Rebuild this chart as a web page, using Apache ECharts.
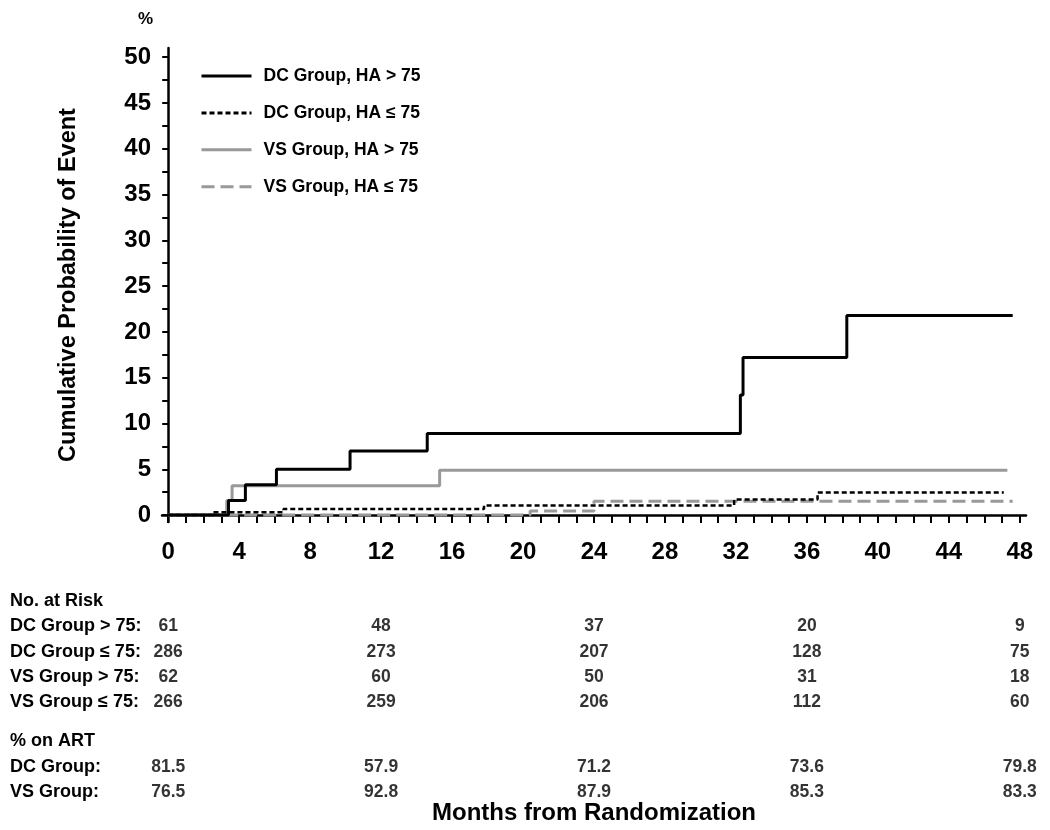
<!DOCTYPE html>
<html><head><meta charset="utf-8">
<script src="https://cdn.jsdelivr.net/npm/echarts@6/dist/echarts.min.js"></script>
<style>html,body{margin:0;padding:0;background:#fff}#c{width:1050px;height:830px}</style>
</head><body><div id="c"></div>
<script>
// ---- data ----
const seriesNames = ['DC Group, HA > 75', 'DC Group, HA \u2264 75', 'VS Group, HA > 75', 'VS Group, HA \u2264 75'];
const dcHighMonths = [0, 3.4, 4.35, 6.1, 10.25, 14.6, 32.25, 32.4, 38.25, 47.6];
const dcHighPct    = [0, 1.6, 3.3, 5.0, 7.0, 8.9, 13.1, 17.2, 21.8, 21.8];
const dcLowMonths  = [0, 2.55, 6.5, 17.8, 31.9, 36.6, 47.1];
const dcLowPct     = [0, 0.3, 0.65, 1.05, 1.7, 2.45, 2.45];
const vsHighMonths = [0, 3.3, 3.6, 15.3, 47.3];
const vsHighPct    = [0, 1.6, 3.2, 4.9, 4.9];
const vsLowMonths  = [0, 20.4, 24.0, 47.6];
const vsLowPct     = [0, 0.45, 1.5, 1.5];

const xLabelTicks = [0, 4, 8, 12, 16, 20, 24, 28, 32, 36, 40, 44, 48];
const xMinorTicks = [0,1,2,3,4,5,6,7,8,9,10,11,12,13,14,15,16,17,18,19,20,21,22,23,24,25,26,27,28,29,30,31,32,33,34,35,36,37,38,39,40,41,42,43,44,45,46,47,48];
const yLabelTicks = [0, 5, 10, 15, 20, 25, 30, 35, 40, 45, 50];
const yMinorTicks = [0, 2.5, 5, 7.5, 10, 12.5, 15, 17.5, 20, 22.5, 25, 27.5, 30, 32.5, 35, 37.5, 40, 42.5, 45, 47.5, 50];

const riskMonths  = [0, 12, 24, 36, 48];
const riskDCHigh  = [61, 48, 37, 20, 9];
const riskDCLow   = [286, 273, 207, 128, 75];
const riskVSHigh  = [62, 60, 50, 31, 18];
const riskVSLow   = [266, 259, 206, 112, 60];
const artDC       = ['81.5', '57.9', '71.2', '73.6', '79.8'];
const artVS       = ['76.5', '92.8', '87.9', '85.3', '83.3'];
const tableRowLabels = ['No. at Risk', 'DC Group > 75:', 'DC Group \u2264 75:', 'VS Group > 75:', 'VS Group \u2264 75:', '% on ART', 'DC Group:', 'VS Group:'];
const tableRowPos    = [0, 1, 2, 3, 4, 5.55, 6.55, 7.55];

// ---- build ----
const FONT = '"Liberation Sans", Arial, Helvetica, sans-serif';
const zip = (xs, ys) => xs.map((x, i) => [x, ys[i]]);
const rowMap = {};
tableRowPos.forEach((p, i) => { rowMap[String(p)] = tableRowLabels[i]; });

function tableSeries(rowIdx, vals) {
  return {
    type: 'scatter', xAxisIndex: 1, yAxisIndex: 1, silent: true,
    symbolSize: 1, itemStyle: { color: 'rgba(0,0,0,0)' },
    data: riskMonths.map((m, i) => [m, tableRowPos[rowIdx], String(vals[i])]),
    label: { show: true, position: 'inside', formatter: p => p.value[2],
             color: '#000', fontFamily: FONT, fontWeight: 'bold', fontSize: 17.5 }
  };
}

const chart = echarts.init(document.getElementById('c'));
chart.setOption({
  animation: false,
  backgroundColor: '#fff',
  grid: [
    { left: 162, right: 24, top: 48, bottom: 307 },
    { left: 162, right: 24, top: 588.5, height: 215 }
  ],
  xAxis: [{
    type: 'value', gridIndex: 0, min: -0.35, max: 48.35,
    axisLine: { lineStyle: { color: '#000', width: 2.5 } },
    axisTick: { show: true, length: 8, lineStyle: { color: '#000', width: 2 }, customValues: xMinorTicks },
    axisLabel: { customValues: xLabelTicks, margin: 18, color: '#000', fontFamily: FONT, fontWeight: 'bold', fontSize: 24 },
    splitLine: { show: false },
    name: 'Months from Randomization', nameLocation: 'middle', nameGap: 279,
    nameTextStyle: { color: '#000', fontFamily: FONT, fontWeight: 'bold', fontSize: 24 }
  }, {
    type: 'value', gridIndex: 1, min: -0.35, max: 48.35, show: false
  }],
  yAxis: [{
    type: 'value', gridIndex: 0, min: -0.76, max: 51,
    axisLine: { show: true, lineStyle: { color: '#000', width: 2.5 } },
    axisTick: { show: true, length: 6, lineStyle: { color: '#000', width: 2 }, customValues: yMinorTicks },
    axisLabel: { customValues: yLabelTicks, margin: 11, color: '#000', fontFamily: FONT, fontWeight: 'bold', fontSize: 24 },
    splitLine: { show: false },
    name: 'Cumulative Probability of Event', nameLocation: 'middle', nameGap: 81, nameRotate: 90,
    nameTextStyle: { color: '#000', fontFamily: FONT, fontWeight: 'bold', fontSize: 23.5 }
  }, {
    type: 'value', gridIndex: 1, min: -0.5, max: 8, inverse: true,
    axisLine: { show: false }, axisTick: { show: false }, splitLine: { show: false },
    axisLabel: { customValues: tableRowPos, formatter: v => rowMap[String(v)] || '',
                 align: 'left', margin: 152, color: '#000', fontFamily: FONT, fontWeight: 'bold', fontSize: 18 }
  }],
  legend: {
    orient: 'vertical', left: 195, top: 62, itemWidth: 50, itemHeight: 16, itemGap: 18.9,
    data: seriesNames,
    itemStyle: { opacity: 0 },
    lineStyle: { width: 3 },
    textStyle: { color: '#000', fontFamily: FONT, fontWeight: 'bold', fontSize: 17.5, padding: [0, 0, 0, 7] }
  },
  graphic: [{
    type: 'text', left: 138, top: 11,
    style: { text: '%', fill: '#000', font: 'bold 17px ' + FONT }
  }],
  series: [
    { name: seriesNames[3], type: 'line', step: 'end', symbol: 'none', data: zip(vsLowMonths, vsLowPct),
      lineStyle: { color: '#999', width: 3, type: [13, 6] }, itemStyle: { color: '#999' } },
    { name: seriesNames[2], type: 'line', step: 'end', symbol: 'none', data: zip(vsHighMonths, vsHighPct),
      lineStyle: { color: '#999', width: 3, type: 'solid' }, itemStyle: { color: '#999' } },
    { name: seriesNames[1], type: 'line', step: 'end', symbol: 'none', data: zip(dcLowMonths, dcLowPct),
      lineStyle: { color: '#000', width: 2.5, type: [5, 3] }, itemStyle: { color: '#000' } },
    { name: seriesNames[0], type: 'line', step: 'end', symbol: 'none', data: zip(dcHighMonths, dcHighPct),
      lineStyle: { color: '#000', width: 3, type: 'solid' }, itemStyle: { color: '#000' } },
    tableSeries(1, riskDCHigh),
    tableSeries(2, riskDCLow),
    tableSeries(3, riskVSHigh),
    tableSeries(4, riskVSLow),
    tableSeries(6, artDC),
    tableSeries(7, artVS)
  ]
});
</script></body></html>
